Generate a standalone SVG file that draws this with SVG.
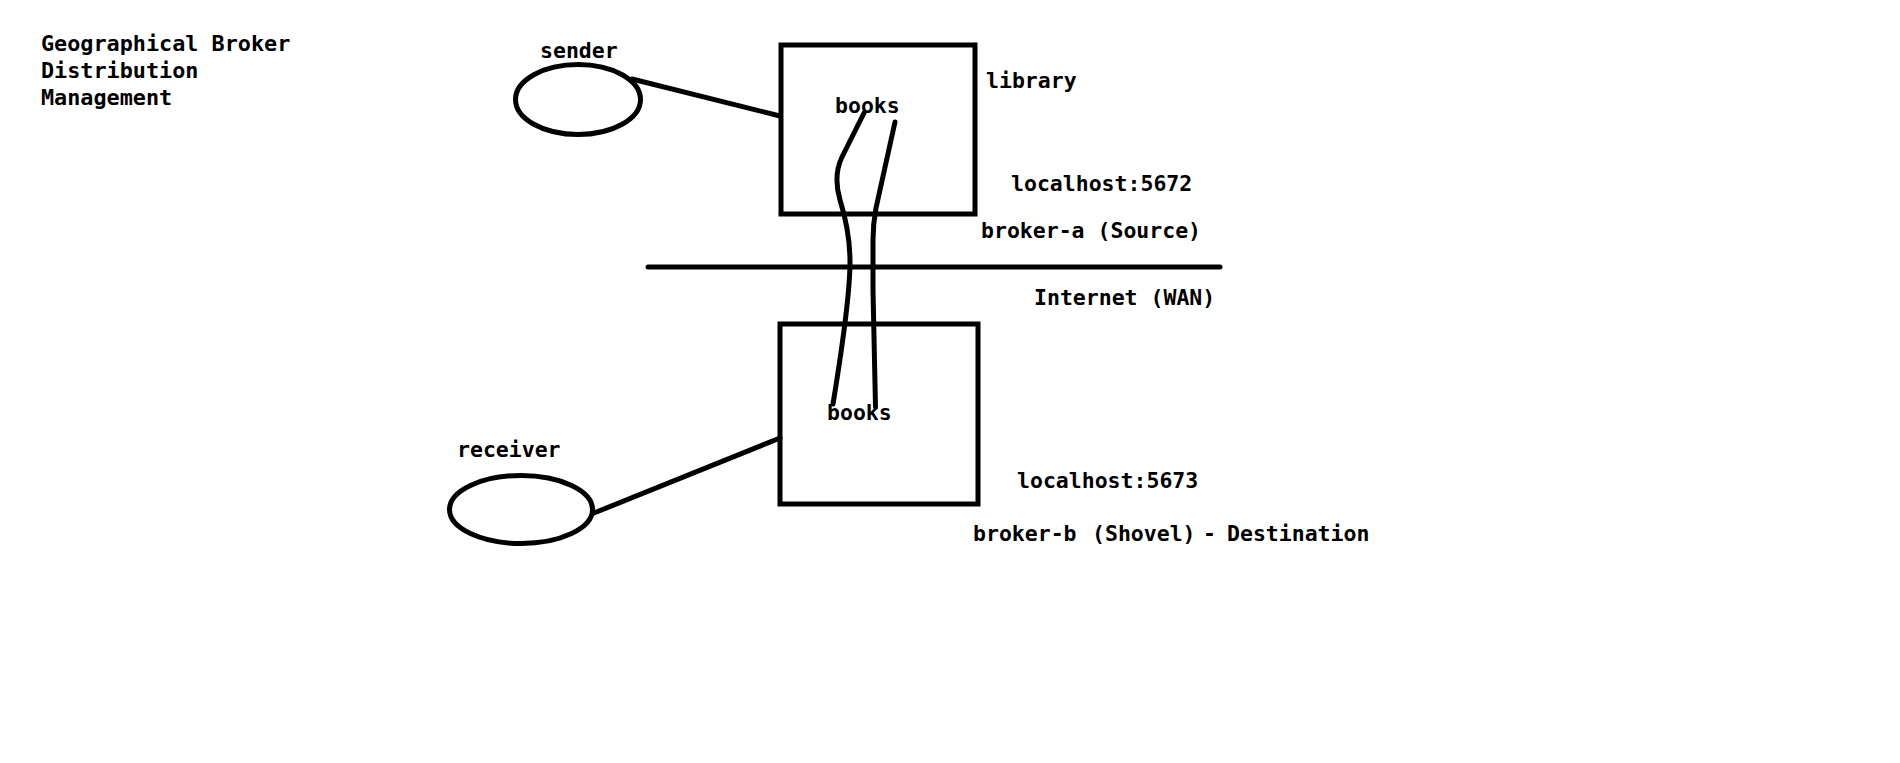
<svg xmlns="http://www.w3.org/2000/svg" width="1900" height="763" viewBox="0 0 1900 763">
<style>
  text { font-family: "DejaVu Sans Mono", "Liberation Mono", monospace; font-weight: bold; font-size: 21.5px; fill: #000; }
  .title { font-size: 21.8px; }
  .stroke { fill: none; stroke: #000; stroke-width: 5; }
  .line { fill: none; stroke: #000; stroke-width: 5; stroke-linecap: round; stroke-linejoin: round; }
</style>
<rect width="1900" height="763" fill="#fff"/>

<g id="title">
  <text class="title" x="41" y="51">Geographical Broker</text>
  <text class="title" x="41" y="78">Distribution</text>
  <text class="title" x="41" y="105">Management</text>
</g>

<g id="sender">
  <ellipse class="stroke" cx="578" cy="99.5" rx="62.5" ry="35"/>
  <text x="540" y="58">sender</text>
</g>

<g id="broker-a">
  <rect class="stroke" x="781" y="45" width="194" height="169"/>
  <text x="835" y="113">books</text>
  <text x="986" y="88">library</text>
  <text x="1011" y="191">localhost:5672</text>
  <text x="981" y="238">broker-a (Source)</text>
</g>

<g id="wan">
  <line class="line" x1="648" y1="267" x2="1220" y2="267"/>
  <text x="1034" y="305">Internet (WAN)</text>
</g>

<g id="broker-b">
  <rect class="stroke" x="780" y="324" width="198" height="180"/>
  <text x="827" y="420">books</text>
  <text x="1017" y="488">localhost:5673</text>
  <text y="541"><tspan x="973">broker-b</tspan><tspan x="1092">(Shovel)</tspan><tspan x="1203">-</tspan><tspan x="1227">Destination</tspan></text>
</g>

<g id="receiver">
  <ellipse class="stroke" cx="521" cy="509.5" rx="71.5" ry="34"/>
  <text x="457" y="457">receiver</text>
</g>

<g id="connectors">
  <line class="line" x1="632" y1="79" x2="780" y2="116"/>
  <line class="line" x1="594" y1="513" x2="780" y2="438"/>
  <path class="line" d="M864,113 L842,157 Q833,176 840,200 Q850,232 850,262 Q850,300 833,404"/>
  <path class="line" d="M895,122 L876,208 Q873,224 873,240 L873,290 L875.5,407"/>
</g>
</svg>
